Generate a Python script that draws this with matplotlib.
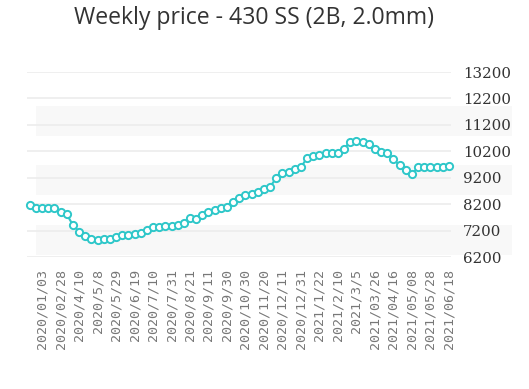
import matplotlib.pyplot as plt
from matplotlib.patches import Rectangle
from matplotlib.transforms import blended_transform_factory

# weekly price, one point per week
prices = [8180, 8050, 8050, 8050, 8050, 7920, 7820, 7420, 7170, 7000,
          6900, 6850, 6900, 6900, 6980, 7040, 7040, 7080, 7130, 7230,
          7330, 7330, 7380, 7380, 7420, 7480, 7690, 7630, 7800, 7920,
          7990, 8050, 8110, 8300, 8430, 8550, 8590, 8680, 8770, 8860,
          9200, 9390, 9430, 9520, 9600, 9960, 10020, 10060, 10150, 10150,
          10150, 10310, 10560, 10600, 10560, 10480, 10310, 10190, 10150, 9900,
          9680, 9490, 9340, 9600, 9600, 9600, 9600, 9600, 9650]

# every third week is labelled, counted back from the last point
date_labels = ['2020/01/03', '2020/02/28', '2020/4/10', '2020/5/8', '2020/5/29',
               '2020/6/19', '2020/7/10', '2020/7/31', '2020/8/21', '2020/9/11',
               '2020/9/30', '2020/10/30', '2020/11/20', '2020/12/11', '2020/12/31',
               '2021/1/22', '2021/2/10', '2021/3/5', '2021/03/26', '2021/04/16',
               '2021/05/08', '2021/05/28', '2021/06/18']

y_ticks = list(range(6200, 13201, 1000))

# light background bands (value ranges)
bands = [(6287, 7419), (8551, 9683), (10777, 11909)]

teal = '#2ec7c9'

fig = plt.figure(figsize=(5.29, 3.89), dpi=100)
ax = fig.add_axes([27 / 529, 1 - 257.3 / 389, 424 / 529, 185.3 / 389])

trans = blended_transform_factory(ax.transAxes, ax.transData)
for lo, hi in bands:
    ax.add_patch(Rectangle((0.021, lo), 1.123, hi - lo, transform=trans,
                           facecolor='#f8f8f8', edgecolor='none',
                           clip_on=False, zorder=0))

for t in y_ticks:
    ax.axhline(t, color='#ececec', linewidth=1.2, zorder=1)

x = list(range(len(prices)))
ax.plot(x, prices, '-o', color=teal, linewidth=1.5, markersize=5.2,
        markerfacecolor='white', markeredgecolor=teal, markeredgewidth=1.4,
        zorder=3, clip_on=False)

ax.set_xlim(-0.45, len(prices) - 1 + 0.35)
ax.set_ylim(6200, 13200)

start = len(prices) - 1 - 3 * (len(date_labels) - 1)
ax.set_xticks(list(range(start, len(prices), 3)))
ax.set_xticklabels(date_labels, rotation=90, family='DejaVu Sans Mono',
                   fontsize=9.6, color='#777777', va='top', ha='center')

ax.yaxis.tick_right()
ax.set_yticks(y_ticks)
ax.set_yticklabels([str(t) for t in y_ticks], family='DejaVu Serif',
                   fontsize=10.8, color='#333333', ha='left')
ax.tick_params(axis='x', length=0, pad=8.3)
ax.tick_params(axis='y', length=0, pad=8.5)

for s in ax.spines.values():
    s.set_visible(False)
ax.set_facecolor('none')

fig.text(254.5 / 529, 1 - 18.5 / 389, 'Weekly price - 430 SS (2B, 2.0mm)',
         family='Open Sans', fontsize=16.6, color='#333333',
         ha='center', va='center')

fig.savefig('out.png', dpi=100)
